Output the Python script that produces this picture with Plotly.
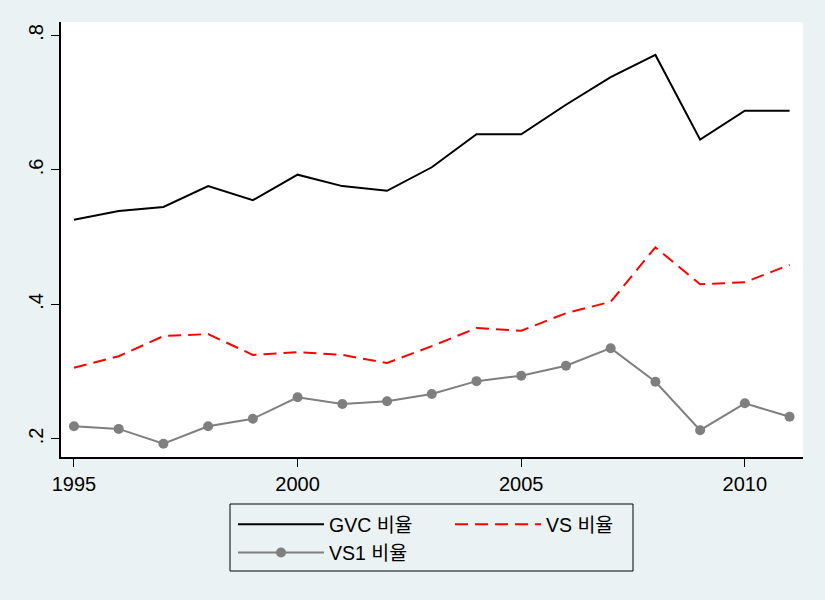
import plotly.graph_objects as go

years = list(range(1995, 2012))
gvc = [0.526, 0.539, 0.545, 0.576, 0.555, 0.593, 0.576, 0.569, 0.604, 0.653, 0.653,
       0.697, 0.738, 0.771, 0.645, 0.688, 0.688]
vs = [0.306, 0.323, 0.353, 0.356, 0.325, 0.329, 0.325, 0.313, 0.338, 0.365, 0.361,
      0.387, 0.404, 0.485, 0.430, 0.433, 0.459]
vs1 = [0.219, 0.215, 0.193, 0.219, 0.230, 0.262, 0.252, 0.256, 0.267, 0.286, 0.294,
       0.309, 0.335, 0.285, 0.213, 0.253, 0.233]
names = ["GVC 비율", "VS 비율", "VS1 비율"]
xticks = [1995, 2000, 2005, 2010]
yticks = [0.2, 0.4, 0.6, 0.8]
yticklabels = [".2", ".4", ".6", ".8"]

FONT = "Arial, 'Liberation Sans', 'Noto Sans CJK KR', sans-serif"
BG = "#EAF2F3"
W, H = 825, 600
ML, MR, MT, MB = 61, 22, 22, 143
PW, PH = W - ML - MR, H - MT - MB


def px_to_paper_x(px):
    return (px - ML) / PW


def px_to_paper_y(py):
    return (H - MB - py) / PH


fig = go.Figure()
fig.add_trace(go.Scatter(x=years, y=gvc, name=names[0], mode="lines",
                         line=dict(color="black", width=2), legend="legend"))
fig.add_trace(go.Scatter(x=years, y=vs, name=names[1], mode="lines",
                         line=dict(color="#FF0000", width=2, dash="13px,7px"), legend="legend2"))
fig.add_trace(go.Scatter(x=years, y=vs1, name=names[2], mode="lines+markers",
                         line=dict(color="#7F7F7F", width=2),
                         marker=dict(color="#7F7F7F", size=10), legend="legend"))

leg_common = dict(
    xref="container", yref="container", xanchor="left", yanchor="top",
    orientation="v", bgcolor="rgba(0,0,0,0)", borderwidth=0,
    font=dict(family=FONT, size=19.5, color="black"), itemwidth=86,
)

# legend frame
fig.add_shape(type="rect", xref="paper", yref="paper",
              x0=px_to_paper_x(230), x1=px_to_paper_x(633),
              y0=px_to_paper_y(571), y1=px_to_paper_y(504),
              line=dict(color="black", width=1), fillcolor=BG, layer="below")

fig.update_layout(
    width=W, height=H,
    margin=dict(l=ML, r=MR, t=MT, b=MB, autoexpand=False),
    paper_bgcolor=BG, plot_bgcolor="white",
    font=dict(family=FONT, size=20, color="black"),
    showlegend=True,
    legend=dict(x=233 / W, y=1 - 505 / H, **leg_common),
    legend2=dict(x=450 / W, y=1 - 505 / H, **leg_common),
    xaxis=dict(range=[1994.71, 2011.30], tickvals=xticks, ticks="outside", ticklen=8,
               tickcolor="black", showline=True, linecolor="black", linewidth=1.5,
               showgrid=False, zeroline=False, tickfont=dict(size=20)),
    yaxis=dict(range=[0.1732, 0.820], tickvals=yticks, ticktext=yticklabels,
               ticks="outside", ticklen=8, tickcolor="black", tickangle=-90,
               showline=True, linecolor="black", linewidth=1.5,
               showgrid=False, zeroline=False, tickfont=dict(size=20)),
)

fig.write_html("out.html")
